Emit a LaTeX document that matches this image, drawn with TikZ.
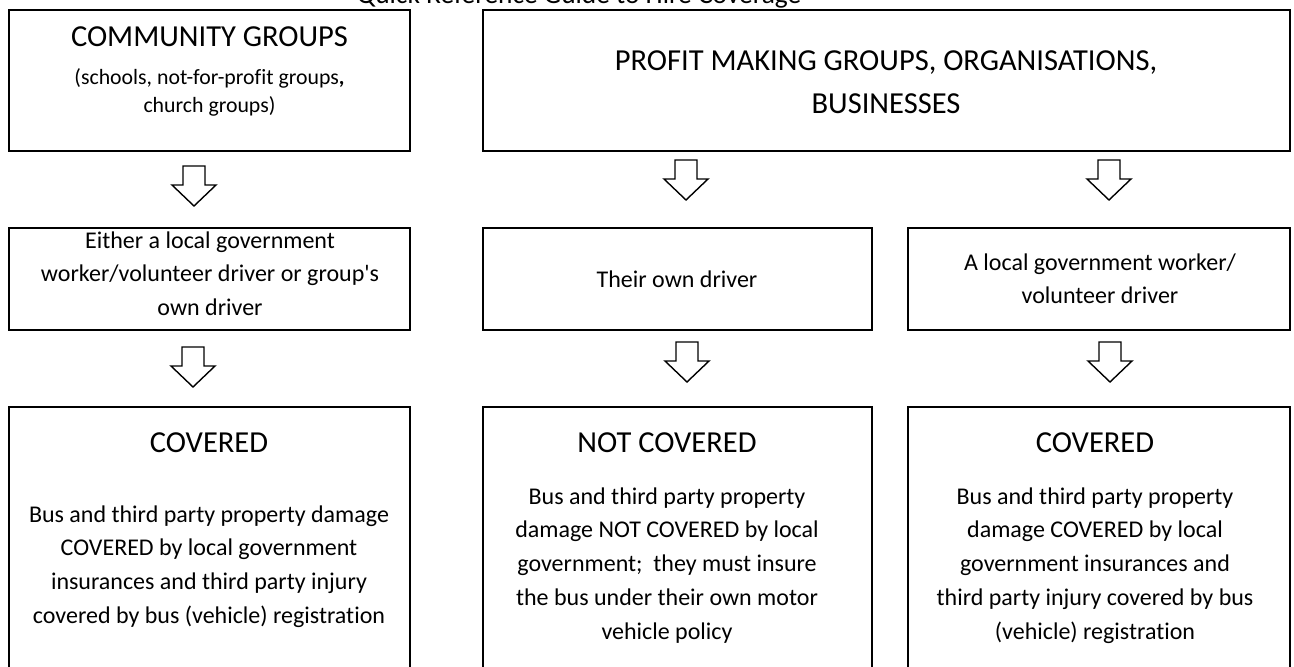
\documentclass[tikz,border=0pt]{standalone}
\usepackage{fontspec}
\setmainfont[Ligatures={TeXOff,CommonOff}]{Carlito}
\newcommand\myBody{\fontsize{24}{33.7}\selectfont}
\newcommand\myHead{\fontsize{30.5}{43}\selectfont}
\newcommand\mySub{\fontsize{21.8}{28}\selectfont}
\newcommand\myTitle{\fontsize{27.4}{33}\selectfont}
\tikzset{
  box/.style={draw, line width=2.2pt, rectangle, inner sep=0pt},
  blk/.style={draw, line width=1.4pt, fill=white, line join=miter},
  txt/.style={anchor=north, inner sep=0pt, align=center},
  one/.style={anchor=base, inner sep=0pt},
  blockarrow/.pic={\draw[blk] (-11,0) -- (11,0) -- (11,19) -- (22,19) -- (0,40) -- (-22,19) -- (-11,19) -- cycle;}
}
\begin{document}
\begin{tikzpicture}[x=1pt,y=-1pt]
\useasboundingbox (0,0) rectangle (1294,667);
\clip (0,0) rectangle (1294,667);
% title
\node[one, font=\myTitle] (title) at (579,3) {Quick Reference Guide to Hire Coverage};
% boxes
\node[box, minimum width=401pt, minimum height=141pt] (b1) at (209.5,80.5) {};
\node[box, minimum width=807pt, minimum height=141pt] (b2) at (886.5,80.5) {};
\node[box, minimum width=401pt, minimum height=102pt] (b3) at (209.5,279) {};
\node[box, minimum width=389pt, minimum height=102pt] (b4) at (677.5,279) {};
\node[box, minimum width=382pt, minimum height=102pt] (b5) at (1099,279) {};
\node[box, minimum width=401pt, minimum height=293pt] (b6) at (209.5,553.5) {};
\node[box, minimum width=389pt, minimum height=293pt] (b7) at (677.5,553.5) {};
\node[box, minimum width=382pt, minimum height=293pt] (b8) at (1099,553.5) {};
% texts row 1
\node[one, font=\myHead] (t1h) at (209.5,46) {COMMUNITY GROUPS};
\node[txt, font=\mySub] (t1s) at (209.5,62.2) {\rule{0pt}{1em}(schools, not-for-profit groups{\bfseries ,}\\church groups)};
\node[txt, font=\myHead] (t2) at (886,39.5) {\rule{0pt}{1em}PROFIT MAKING GROUPS, ORGANISATIONS,\\BUSINESSES};
% texts row 2
\node[txt, font=\myBody] (t3) at (210,224) {\rule{0pt}{1em}Either a local government\\worker/volunteer driver or group's\\own driver};
\node[one, font=\myBody] (t4) at (677,287) {Their own driver};
\node[txt, font=\myBody] (t5) at (1100,246) {\rule{0pt}{1em}A local government worker/\\volunteer driver};
% texts row 3
\node[one, font=\myHead] (t6h) at (209,452) {COVERED};
\node[txt, font=\myBody] (t6) at (209,498) {\rule{0pt}{1em}Bus and third party property damage\\COVERED by local government\\insurances and third party injury\\covered by bus (vehicle) registration};
\node[one, font=\myHead] (t7h) at (667,452) {NOT COVERED};
\node[txt, font=\myBody] (t7) at (667,480) {\rule{0pt}{1em}Bus and third party property\\damage NOT COVERED by local\\government;\ \ they must insure\\the bus under their own motor\\vehicle policy};
\node[one, font=\myHead] (t8h) at (1095,452) {COVERED};
\node[txt, font=\myBody] (t8) at (1095,480) {\rule{0pt}{1em}Bus and third party property\\damage COVERED by local\\government insurances and\\third party injury covered by bus\\(vehicle) registration};
% block arrows
\pic (a1) at (194,166) {blockarrow};
\pic (a2) at (686,160) {blockarrow};
\pic (a3) at (1109,160) {blockarrow};
\pic (a4) at (193,347) {blockarrow};
\pic (a5) at (687,342) {blockarrow};
\pic (a6) at (1110,342) {blockarrow};
\end{tikzpicture}
\end{document}
